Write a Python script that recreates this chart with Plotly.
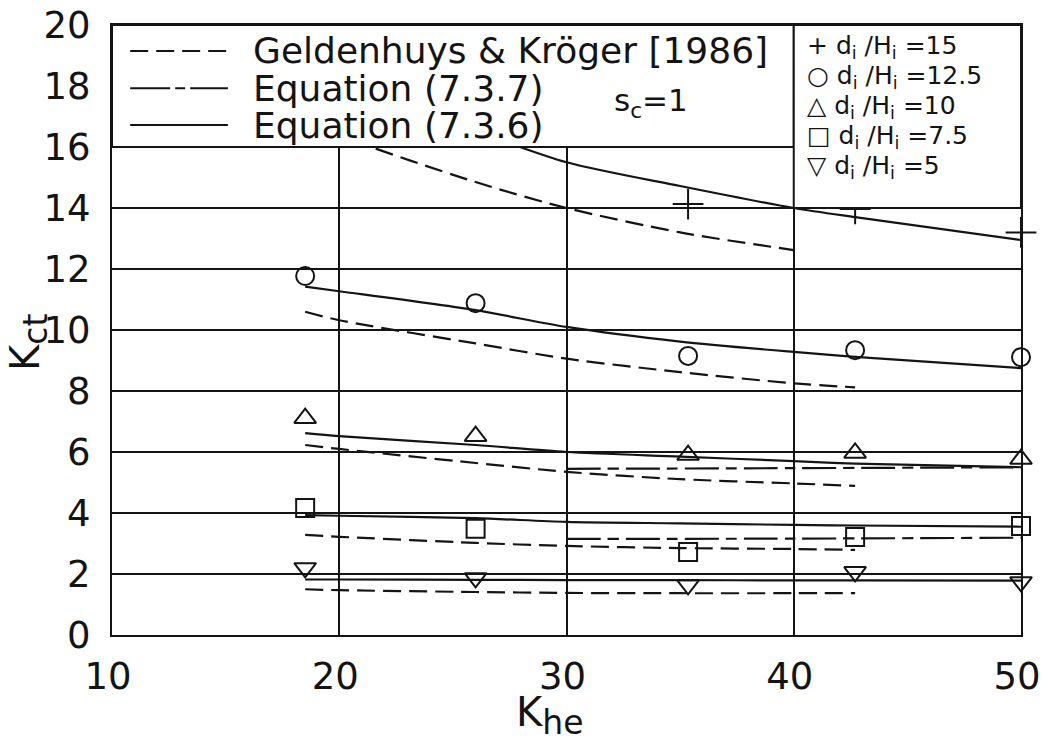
import plotly.graph_objects as go

# ---------------- data ----------------
x_pts = [18.5, 26, 35.35, 42.7, 50]
plus15_x = [35.35, 42.7, 50]
plus15_y = [14.13, 13.97, 13.2]
circ125_y = [11.77, 10.88, 9.15, 9.34, 9.11]
tri10_y = [7.11, 6.52, 5.9, 5.97, 5.77]
sq75_y = [4.16, 3.48, 2.72, 3.21, 3.57]
tdn5_y = [2.2, 1.87, 1.64, 2.07, 1.74]

# Equation (7.3.6) solid curves
eq736_x = [18.5, 20, 26, 30, 35, 40, 42.7, 50]
eq736_15 = [18.2, 17.8, 16.5, 15.5, 14.72, 14.0, 13.7, 12.95]
eq736_125 = [11.42, 11.27, 10.65, 10.1, 9.62, 9.28, 9.12, 8.75]
eq736_10 = [6.62, 6.52, 6.23, 6.0, 5.85, 5.7, 5.62, 5.5]
eq736_75 = [3.93, 3.91, 3.83, 3.71, 3.66, 3.61, 3.59, 3.55]
eq736_5 = [1.82, 1.82, 1.81, 1.8, 1.8, 1.79, 1.79, 1.78]

# Geldenhuys & Kroger dashed curves
gk_x = [18.5, 20, 26, 30, 35, 40, 42.7]
gk_15_x = [18.5, 20, 26, 30, 35, 40]
gk_15 = [17.0, 16.4, 14.85, 14.0, 13.2, 12.62]
gk_125 = [10.6, 10.32, 9.56, 9.06, 8.62, 8.25, 8.12]
gk_10 = [6.23, 6.1, 5.64, 5.35, 5.11, 4.97, 4.89]
gk_75 = [3.28, 3.22, 3.02, 2.92, 2.85, 2.82, 2.79]
gk_5 = [1.5, 1.47, 1.41, 1.38, 1.37, 1.37, 1.37]

# Equation (7.3.7) dash-dot curves
eq737_x = [30, 40, 50]
eq737_10 = [5.45, 5.47, 5.5]
eq737_75 = [3.15, 3.16, 3.19]

x_ticks = [10, 20, 30, 40, 50]
y_ticks = [0, 2, 4, 6, 8, 10, 12, 14, 16, 18, 20]

legend_left = ["Geldenhuys &amp; Kröger [1986]", "Equation (7.3.7)", "Equation (7.3.6)"]
legend_right_sym = ["+", "○", "△", "□", "▽"]
legend_right_val = ["15", "12.5", "10", "7.5", "5"]

# ---------------- style ----------------
INK = "#141414"
FONT = "DejaVu Sans"
GK_DASH = "18px,8px"
EQ737_DASH = "34px,7px,11px,7px"

fig = go.Figure()

def line(x, y, dash):
    fig.add_trace(go.Scatter(x=x, y=y, mode="lines",
                             line=dict(color=INK, width=2.2, dash=dash, shape="spline", smoothing=0.8),
                             showlegend=False, hoverinfo="skip"))

for yy in [eq736_15, eq736_125, eq736_10, eq736_75, eq736_5]:
    line(eq736_x, yy, "solid")
line(gk_15_x, gk_15, GK_DASH)
for yy in [gk_125, gk_10, gk_75, gk_5]:
    line(gk_x, yy, GK_DASH)
for yy in [eq737_10, eq737_75]:
    line(eq737_x, yy, EQ737_DASH)

def markers(x, y, symbol, size):
    fig.add_trace(go.Scatter(x=x, y=y, mode="markers", cliponaxis=False,
                             marker=dict(symbol=symbol, size=size, color=INK,
                                         line=dict(color=INK, width=2)),
                             showlegend=False, hoverinfo="skip"))

markers(plus15_x, plus15_y, "cross-thin-open", 22)
markers(x_pts, circ125_y, "circle-open", 18)
markers(x_pts, tri10_y, "triangle-up-open", 19)
markers(x_pts, sq75_y, "square-open", 18)
markers(x_pts, tdn5_y, "triangle-down-open", 19)

# legend boxes & sample lines
shapes = [
    dict(type="rect", xref="x", yref="y", x0=10, x1=40, y0=16, y1=20,
         fillcolor="white", line=dict(color=INK, width=2), layer="above"),
    dict(type="rect", xref="x", yref="y", x0=40, x1=50, y0=14, y1=20,
         fillcolor="white", line=dict(color=INK, width=2), layer="above"),
]
sample_y = [19.15, 17.93, 16.72]
sample_dash = [GK_DASH, "40px,5px,10px,5px", "solid"]
for yy, d in zip(sample_y, sample_dash):
    shapes.append(dict(type="line", xref="x", yref="y", x0=10.8, x1=15.1, y0=yy, y1=yy,
                       line=dict(color=INK, width=2, dash=d), layer="above"))

annotations = []
for yy, t in zip(sample_y, legend_left):
    annotations.append(dict(x=16.1, y=yy, xref="x", yref="y", text=t, showarrow=False,
                            xanchor="left", yanchor="middle",
                            font=dict(family=FONT, size=36, color=INK)))
annotations.append(dict(x=32.0, y=17.45, xref="x", yref="y", text="s<sub>c</sub>=1",
                        showarrow=False, xanchor="left", yanchor="middle",
                        font=dict(family=FONT, size=31, color=INK)))
right_y = [19.28, 18.28, 17.3, 16.32, 15.34]
for yy, s, v in zip(right_y, legend_right_sym, legend_right_val):
    annotations.append(dict(x=40.5, y=yy, xref="x", yref="y",
                            text=f"{s} d<sub>i</sub> /H<sub>i</sub> ={v}",
                            showarrow=False, xanchor="left", yanchor="middle",
                            font=dict(family=FONT, size=25, color=INK)))

# axis titles (pixel positions converted to paper coords)
L, R, T, B = 112, 22, 25, 107
W, H = 1043, 742
def px2paper(px, py):
    return (px - L) / (W - L - R), (H - B - py) / (H - T - B)

ax, ay = px2paper(549, 715)
annotations.append(dict(x=ax, y=ay, xref="paper", yref="paper",
                        text="K<sub><span style='font-size:33px'>he</span></sub>",
                        showarrow=False, xanchor="center", yanchor="middle",
                        font=dict(family=FONT, size=40, color=INK)))
ax, ay = px2paper(28, 343)
annotations.append(dict(x=ax, y=ay, xref="paper", yref="paper",
                        text="K<sub><span style='font-size:33px'>ct</span></sub>",
                        showarrow=False, xanchor="center", yanchor="middle", textangle=-90,
                        font=dict(family=FONT, size=40, color=INK)))

fig.update_layout(
    width=W, height=H,
    margin=dict(l=L, r=R, t=T, b=B, autoexpand=False),
    paper_bgcolor="white", plot_bgcolor="white",
    shapes=shapes, annotations=annotations,
    font=dict(family=FONT, color=INK),
    xaxis=dict(range=[10, 50], tickvals=x_ticks, ticktext=[str(v) for v in x_ticks],
               showgrid=True, gridcolor=INK, gridwidth=1.6, zeroline=False,
               showline=True, linecolor=INK, linewidth=2, mirror=True, automargin=False,
               ticks="", ticklabelstandoff=8, ticklabeloverflow="allow", ticklabelshift=-4,
               tickfont=dict(family=FONT, size=37, color=INK)),
    yaxis=dict(range=[0, 20], tickvals=y_ticks, ticktext=[str(v) for v in y_ticks],
               showgrid=True, gridcolor=INK, gridwidth=1.6, zeroline=False,
               showline=True, linecolor=INK, linewidth=2, mirror=True, automargin=False,
               ticks="", ticklabelstandoff=12, ticklabeloverflow="allow",
               tickfont=dict(family=FONT, size=37, color=INK)),
)

fig.write_html("out.html")
